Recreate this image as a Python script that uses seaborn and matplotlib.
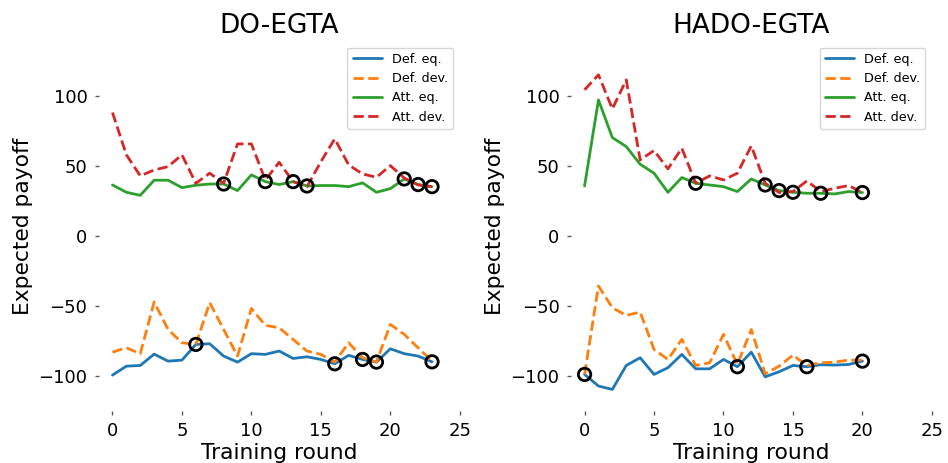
import matplotlib
matplotlib.use("Agg")
import matplotlib.pyplot as plt
import numpy as np
import pandas as pd
import seaborn as sns

# ---- DO-EGTA payoffs per training round ----
do_rounds = list(range(24))
do_def_eq = [-99.3, -92.9, -92.4, -84.3, -89.3, -88.6, -77.4, -76.9, -85.7, -90.0,
             -84.0, -84.5, -82.1, -87.4, -86.2, -88.1, -91.2, -85.2, -88.1, -90.0,
             -80.5, -84.0, -85.7, -89.8]
do_def_dev = [-82.9, -79.8, -84.0, -47.1, -66.7, -76.2, -77.4, -47.6, -66.7, -85.7,
              -51.7, -63.8, -65.5, -73.8, -82.1, -84.5, -90.0, -76.2, -86.9, -90.0,
              -63.1, -70.2, -79.8, -89.3]
do_att_eq = [36.4, 31.2, 29.0, 39.8, 39.8, 34.5, 36.2, 37.1, 37.1, 32.4,
             43.6, 38.8, 36.7, 38.8, 35.7, 36.0, 36.0, 35.2, 37.9, 31.2,
             33.8, 40.7, 36.7, 35.2]
do_att_dev = [88.1, 57.9, 42.9, 47.1, 49.5, 57.9, 37.6, 44.8, 37.6, 65.7,
              65.7, 40.0, 52.6, 38.8, 35.2, 53.0, 69.3, 50.7, 44.3, 41.9,
              50.2, 41.4, 36.4, 35.2]
do_def_conv = [6, 16, 18, 19, 23]
do_att_conv = [8, 11, 13, 14, 21, 22, 23]

# ---- HADO-EGTA payoffs per training round ----
hado_rounds = list(range(21))
hado_def_eq = [-98.8, -107.1, -109.5, -92.4, -86.9, -98.8, -94.0, -84.5, -94.8, -94.8,
               -88.1, -93.3, -82.9, -100.5, -96.9, -92.4, -93.3, -91.9, -92.1, -91.7,
               -89.3]
hado_def_dev = [-98.8, -35.7, -51.2, -56.7, -54.3, -81.0, -88.1, -73.8, -92.4, -90.5,
                -70.2, -91.7, -66.7, -98.3, -92.9, -85.0, -92.4, -90.5, -90.0, -88.6,
                -88.6]
hado_att_eq = [35.7, 97.1, 70.2, 63.8, 51.2, 44.8, 31.2, 41.7, 37.6, 36.4,
               35.2, 31.7, 40.7, 36.4, 32.4, 31.2, 30.5, 30.5, 30.0, 31.7,
               31.0]
hado_att_dev = [104.3, 115.0, 90.7, 111.4, 54.3, 61.0, 47.9, 62.6, 37.6, 42.9,
                40.0, 44.8, 64.3, 37.6, 31.0, 31.7, 39.3, 31.7, 34.0, 36.0,
                31.0]
hado_def_conv = [0, 11, 16, 20]
hado_att_conv = [8, 13, 14, 15, 17, 20]

titles = ["DO-EGTA", "HADO-EGTA"]
x_ticks = [0, 5, 10, 15, 20, 25]
y_ticks = [-100, -50, 0, 50, 100]

sns.set_style("white")
plt.rcParams["font.family"] = ["DejaVu Sans"]
plt.rcParams["xtick.bottom"] = True
plt.rcParams["ytick.left"] = True
plt.rcParams["text.color"] = "black"
plt.rcParams["axes.labelcolor"] = "black"

palette = sns.color_palette("tab10")

fig, axes = plt.subplots(1, 2, figsize=(9.48, 4.63), dpi=100)
fig.subplots_adjust(left=0.104, right=0.983, bottom=0.112, top=0.911, wspace=0.307)

runs = [
    (do_rounds, do_def_eq, do_def_dev, do_att_eq, do_att_dev, do_def_conv, do_att_conv),
    (hado_rounds, hado_def_eq, hado_def_dev, hado_att_eq, hado_att_dev, hado_def_conv, hado_att_conv),
]

for ax, title, run in zip(axes, titles, runs):
    rounds, def_eq, def_dev, att_eq, att_dev, def_conv, att_conv = run
    df = pd.DataFrame({"round": rounds, "def_eq": def_eq, "def_dev": def_dev,
                       "att_eq": att_eq, "att_dev": att_dev})
    sns.lineplot(data=df, x="round", y="def_eq", ax=ax, color=palette[0],
                 lw=2, label="Def. eq.")
    sns.lineplot(data=df, x="round", y="def_dev", ax=ax, color=palette[1],
                 lw=2, linestyle="--", label="Def. dev.")
    sns.lineplot(data=df, x="round", y="att_eq", ax=ax, color=palette[2],
                 lw=2, label="Att. eq.")
    sns.lineplot(data=df, x="round", y="att_dev", ax=ax, color=palette[3],
                 lw=2, linestyle="--", label="Att. dev.")

    # rounds where the deviation payoff meets the equilibrium payoff
    conv = pd.concat([
        df.loc[df["round"].isin(def_conv), ["round", "def_eq"]].rename(columns={"def_eq": "v"}),
        df.loc[df["round"].isin(att_conv), ["round", "att_eq"]].rename(columns={"att_eq": "v"}),
    ])
    sns.scatterplot(data=conv, x="round", y="v", ax=ax, marker="o", s=80,
                    facecolor="none", edgecolor="black", linewidth=2, zorder=5,
                    legend=False)

    ax.set_xlim(-1, 25)
    ax.set_ylim(-125, 139)
    ax.set_xticks(x_ticks)
    ax.set_yticks(y_ticks)
    ax.tick_params(axis="both", labelsize=13, length=3, width=1, color=".35",
                   labelcolor="black", pad=5)
    for s in ax.spines.values():
        s.set_visible(False)
    ax.set_title(title, fontsize=19, color="black")
    ax.set_xlabel("Training round", fontsize=15.7, labelpad=2)
    ax.set_ylabel("Expected payoff", fontsize=15.7, labelpad=4)
    ax.legend(loc="upper right", fontsize=9.2, frameon=True, handlelength=2.3)

fig.savefig("out.png", dpi=100)
